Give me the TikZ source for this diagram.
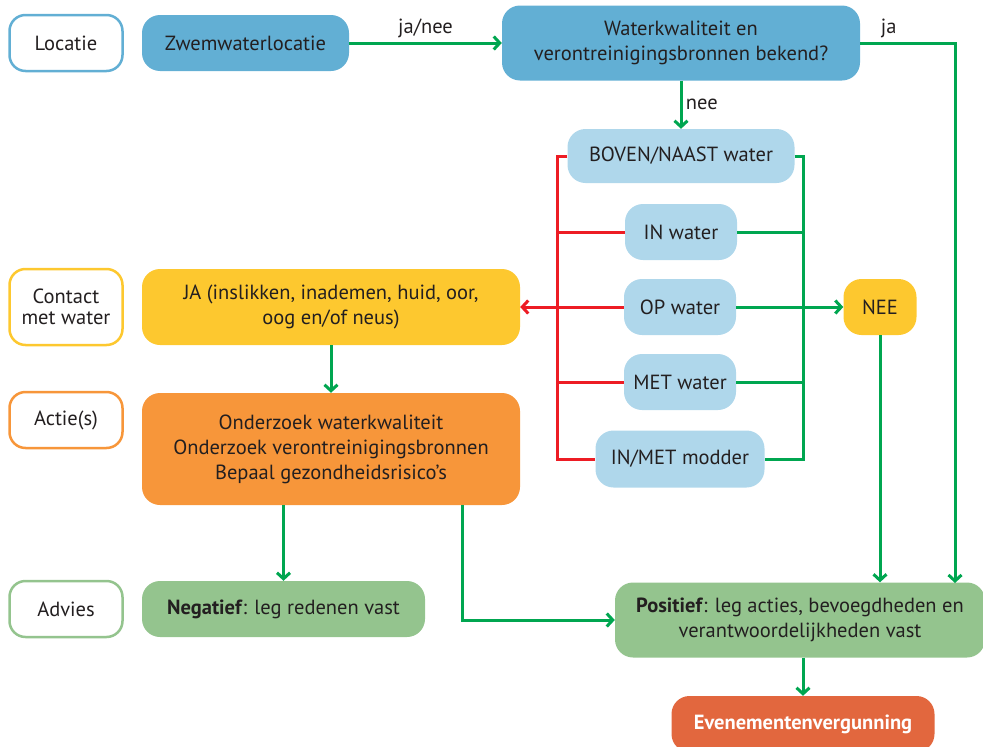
\documentclass[tikz,border=0pt]{standalone}
\usepackage{fontspec}
\setmainfont{PT Sans}
\usepackage{xcolor}
\usetikzlibrary{arrows.meta, positioning, calc}

\definecolor{cblue}{RGB}{98,175,212}
\definecolor{clight}{RGB}{175,215,235}
\definecolor{cyellow}{RGB}{253,200,47}
\definecolor{corange}{RGB}{247,150,58}
\definecolor{cgreen}{RGB}{148,196,142}
\definecolor{cred}{RGB}{226,103,62}
\definecolor{lgreen}{RGB}{0,166,80}
\definecolor{lred}{RGB}{237,28,36}
\definecolor{ctext}{RGB}{35,31,32}

\begin{document}
\begin{tikzpicture}[x=1pt, y=-1pt,
		every node/.style={font=\fontsize{20.5}{25}\selectfont, text=ctext},
		lbl/.style={draw, line width=2.5pt, fill=white, rounded corners=16pt, align=center, minimum width=113pt, minimum height=56pt, inner sep=0pt},
		box/.style={rounded corners=18pt, align=center, inner sep=0pt},
		gline/.style={lgreen, line width=3pt},
		rline/.style={lred, line width=3pt},
		garrow/.style={gline, -{Straight Barb[length=6pt, width=13pt]}},
		rarrow/.style={rline, -{Straight Barb[length=6pt, width=13pt]}}]
	\useasboundingbox (0,0) rectangle (983,747);
	
	% Left column
	\node[lbl, draw=cblue] (loc) at (66,43) {Locatie};
	\node[lbl, draw=cyellow, minimum height=76pt] (contact) at (66,307) {Contact\\[-4pt]met water};
	\node[lbl, draw=corange] (actie) at (66,420) {Actie(s)};
	\node[lbl, draw=cgreen] (advies) at (66,609) {Advies};
	
	% Boxes
	\node[box, fill=cblue, minimum width=207pt, minimum height=56pt] (zwem) at (245.5,43) {Zwemwaterlocatie};
	\node[box, fill=cblue, minimum width=358pt, minimum height=75pt] (vraag) at (681,43) {Waterkwaliteit en\\verontreinigingsbronnen bekend?};
	\node[box, fill=clight, minimum width=227pt, minimum height=54pt] (boven) at (681,156) {BOVEN/NAAST water};
	\node[box, fill=clight, minimum width=112pt, minimum height=56pt] (in) at (681,232) {IN water};
	\node[box, fill=clight, minimum width=112pt, minimum height=56pt] (op) at (680,307) {OP water};
	\node[box, fill=clight, minimum width=112pt, minimum height=56pt] (met) at (680,382) {MET water};
	\node[box, fill=clight, minimum width=169pt, minimum height=57pt] (modder) at (680,459) {IN/MET modder};
	\node[box, fill=cyellow, minimum width=73pt, minimum height=56pt] (nee) at (880,307) {NEE};
	\node[box, fill=cyellow, minimum width=378pt, minimum height=76pt] (ja) at (331,307) {JA (inslikken, inademen, huid, oor,\\oog en/of neus)};
	\node[box, fill=corange, minimum width=378pt, minimum height=112pt] (onderzoek) at (331,449) {Onderzoek waterkwaliteit\\Onderzoek verontreinigingsbronnen\\Bepaal gezondheidsrisico’s};
	\node[box, fill=cgreen, minimum width=283pt, minimum height=56pt] (negatief) at (283.5,609) {\textbf{Negatief}: leg redenen vast};
	\node[box, fill=cgreen, minimum width=370pt, minimum height=75pt] (positief) at (800,620) {\textbf{Positief}: leg acties, bevoegdheden en\\verantwoordelijkheden vast};
	\node[box, fill=cred, minimum width=263pt, minimum height=56pt, text=white, font=\fontsize{20.5}{25}\selectfont\bfseries] (vergunning) at (803,724) {Evenementenvergunning};
	
	% Trunk points
	\coordinate (rt) at (557,156);
	\coordinate (rb) at (557,459);
	\coordinate (gt) at (803,156);
	\coordinate (gb) at (803,459);
	\coordinate (jaend) at (955,583);
	
	% Connectors top
	\draw[garrow] (zwem.east) -- node[above] {ja/nee} (vraag.west);
	\draw[garrow] (vraag.east) -| node[pos=0.15, above] {ja} (jaend);
	\draw[garrow] (vraag.south) -- node[right] {nee} (boven.north);
	
	% Red side
	\draw[rline] (boven.west) -| (rb) -- (modder.west);
	\foreach \n in {in, op, met}
		\draw[rline] (\n.west) -- (\n.west -| rt);
	\draw[rarrow] (op.west -| rt) -- (ja.east);
	
	% Green side
	\draw[gline] (boven.east) -| (gb) -- (modder.east);
	\foreach \n in {in, met}
		\draw[gline] (\n.east) -- (\n.east -| gt);
	\draw[garrow] (op.east) -- (nee.west);
	\draw[garrow] (nee.south) -- (nee.south |- positief.north);
	
	% Down the left
	\draw[garrow] (ja.south) -- (onderzoek.north);
	\draw[garrow] (negatief.north |- onderzoek.south) -- (negatief.north);
	\draw[garrow] ($(onderzoek.south)+(131,0)$) |- (positief.west);
	\draw[garrow] (vergunning.north |- positief.south) -- (vergunning.north);
\end{tikzpicture}
\end{document}
